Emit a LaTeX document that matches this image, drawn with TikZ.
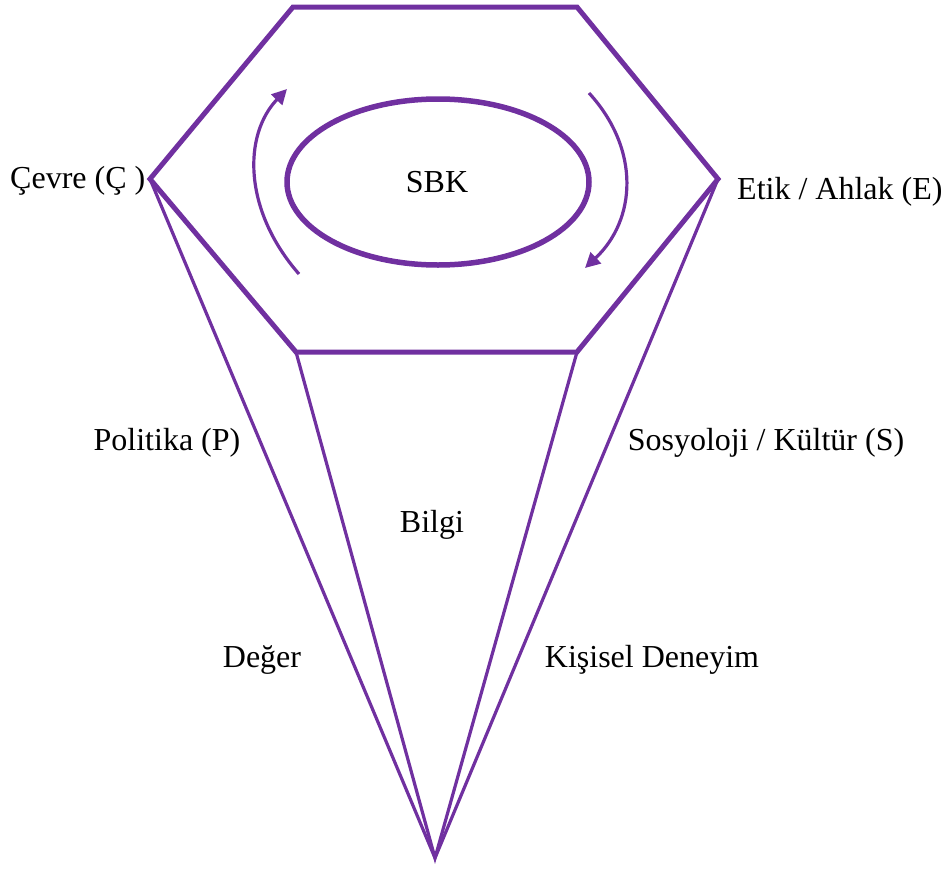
\documentclass[tikz,border=0pt]{standalone}
\usepackage{fontspec}
\setmainfont{Liberation Serif}
\usetikzlibrary{arrows.meta,shapes.geometric}
\definecolor{pur}{HTML}{7030A0}
\begin{document}
\begin{tikzpicture}[x=1pt,y=-1pt,
  hexline/.style={draw=pur,line width=5pt,line join=miter},
  ray/.style={draw=pur,line width=3.2pt},
  circarrow/.style={draw=pur,line width=3.2pt,-{Triangle[length=15pt,width=15pt]}},
  lbl/.style={font=\fontsize{32}{36}\selectfont,inner sep=0pt}]
\useasboundingbox (0,0) rectangle (948,873);
\coordinate (tl) at (293,7);
\coordinate (tr) at (577,7);
\coordinate (r) at (718,179);
\coordinate (br) at (577,352);
\coordinate (bl) at (296,352);
\coordinate (l) at (150,179);
\coordinate (apex) at (435,858);
\draw[ray] (l) -- (apex) -- (r);
\draw[ray] (bl) -- (apex) -- (br);
\draw[hexline] (tl) -- (tr) -- (r) -- (br) -- (bl) -- (l) -- cycle;
\node[draw=pur,line width=5.5pt,ellipse,minimum width=302pt,minimum height=166pt,inner sep=0pt] (ell) at (438,182) {};
\node[lbl] (sbk) at (437,182) {SBK};
\coordinate (la0) at (299,274);
\coordinate (la1) at (287,89);
\coordinate (ra0) at (589,93);
\coordinate (ra1) at (585,268);
\draw[circarrow] (la0) .. controls (243,210) and (243,135) .. (la1);
\draw[circarrow] (ra0) .. controls (641,150) and (636,220) .. (ra1);
\node[lbl,anchor=west] (cevre) at (10,181) {Çevre (Ç )};
\node[lbl,anchor=west] (etik) at (737,192) {Etik / Ahlak (E)};
\node[lbl] (pol) at (167,443) {Politika (P)};
\node[lbl] (sos) at (766,443) {Sosyoloji / Kültür (S)};
\node[lbl] (bilgi) at (432,525) {Bilgi};
\node[lbl] (deger) at (262,660) {Değer};
\node[lbl] (kisisel) at (652,660) {Kişisel Deneyim};
\end{tikzpicture}
\end{document}
